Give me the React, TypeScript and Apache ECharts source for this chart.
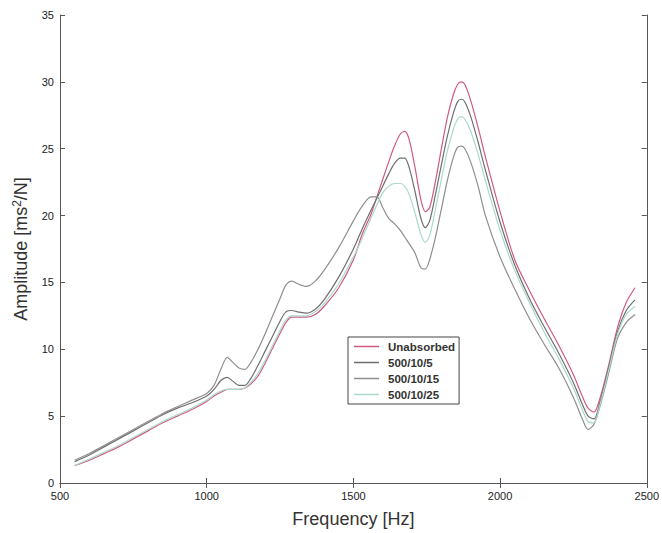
import React, { useEffect, useRef } from "react";
import * as echarts from "echarts";

const freq = [550,600,650,700,750,800,850,900,950,1000,1025,1050,1070,1090,1110,1130,1150,1175,1200,1225,1250,1270,1290,1310,1340,1370,1400,1450,1500,1530,1560,1580,1600,1620,1640,1660,1675,1690,1710,1730,1745,1760,1780,1800,1820,1840,1855,1868,1880,1900,1925,1950,2000,2050,2100,2150,2200,2250,2280,2300,2320,2340,2370,2400,2430,2460];

const unabsorbed = [1.3,1.7,2.2,2.7,3.3,3.9,4.5,5.0,5.5,6.1,6.5,6.8,7.0,7.0,7.0,7.1,7.4,8.0,9.0,10.1,11.2,12.0,12.4,12.4,12.4,12.6,13.2,14.6,16.7,18.6,20.1,21.4,22.7,24.0,25.2,26.1,26.3,25.7,23.6,21.2,20.3,20.6,22.6,25.0,27.3,29.0,29.8,30.0,29.8,28.6,26.6,24.4,20.3,16.7,14.4,12.3,10.3,8.1,6.5,5.6,5.3,6.3,8.8,11.6,13.5,14.6];

const s5 = [1.6,2.1,2.7,3.3,3.9,4.5,5.1,5.6,6.0,6.5,7.0,7.7,7.9,7.6,7.3,7.3,7.8,8.8,9.9,11.0,12.1,12.8,12.9,12.8,12.7,13.0,13.7,15.4,17.5,19.0,20.4,21.3,22.2,23.1,23.9,24.3,24.3,23.6,21.8,19.8,19.1,19.6,21.6,23.8,25.9,27.6,28.5,28.7,28.5,27.4,25.5,23.4,19.5,16.3,13.8,11.7,9.7,7.5,5.9,5.0,4.8,6.0,8.6,11.3,12.9,13.7];

const s15 = [1.7,2.2,2.8,3.4,4.0,4.6,5.2,5.7,6.2,6.7,7.3,8.6,9.4,9.0,8.6,8.5,9.0,10.0,11.2,12.5,13.8,14.8,15.1,14.9,14.7,15.1,15.9,17.6,19.6,20.7,21.4,21.4,20.6,19.8,19.4,18.9,18.4,17.9,17.2,16.1,16.0,16.7,18.4,20.5,22.6,24.3,25.1,25.2,25.0,24.0,22.2,20.0,16.9,14.5,12.3,10.4,8.6,6.4,4.8,4.0,4.4,5.7,8.2,10.8,12.0,12.6];

const s25 = [1.3,1.8,2.3,2.8,3.4,4.0,4.6,5.1,5.6,6.2,6.6,6.9,7.0,7.0,7.0,7.1,7.5,8.2,9.2,10.3,11.4,12.2,12.5,12.5,12.5,12.8,13.4,14.9,16.9,18.3,19.8,20.8,21.7,22.2,22.4,22.4,22.2,21.6,20.2,18.6,18.0,18.5,20.5,22.7,24.8,26.4,27.2,27.4,27.2,26.3,24.6,22.6,18.9,15.9,13.5,11.3,9.3,7.1,5.5,4.6,4.5,5.8,8.4,11.1,12.6,13.2];

const seriesNames = ["Unabsorbed", "500/10/5", "500/10/15", "500/10/25"];
const seriesData = [unabsorbed, s5, s15, s25];
const seriesColors = ["#d05a80", "#6f6f6f", "#8e8e8e", "#a9d9cf"];

const xTicks = [500, 1000, 1500, 2000, 2500];
const yTicks = [0, 5, 10, 15, 20, 25, 30, 35];

export default function App() {
  const ref = useRef<HTMLDivElement>(null);
  useEffect(() => {
    if (!ref.current) return;
    const chart = echarts.init(ref.current, undefined, { renderer: "svg" });
    const font = "Liberation Sans, Arial, sans-serif";
    const axisCommon = {
      axisLine: { show: true, lineStyle: { color: "#555", width: 1 } },
      axisTick: { show: true, inside: true, length: 5, lineStyle: { color: "#555" } },
      splitLine: { show: false },
    };
    chart.setOption({
      animation: false,
      backgroundColor: "#ffffff",
      grid: { left: 60, right: 10, top: 15, bottom: 49 },
      legend: {
        data: seriesNames,
        orient: "vertical",
        left: 348,
        top: 337,
        backgroundColor: "#fff",
        borderColor: "#444",
        borderWidth: 1,
        padding: [3, 4, 3, 6],
        itemGap: 3,
        itemWidth: 25,
        itemHeight: 1.5,
        icon: "rect",
        textStyle: {
          fontFamily: font,
          fontSize: 11.5,
          fontWeight: "bold",
          color: "#333",
          lineHeight: 13,
          padding: [0, 0, 0, 4],
        },
      },
      xAxis: [
        {
          type: "value",
          min: 500,
          max: 2500,
          interval: 500,
          name: "Frequency [Hz]",
          nameLocation: "middle",
          nameGap: 27,
          nameTextStyle: { fontFamily: font, fontSize: 18, color: "#333" },
          axisLabel: {
            fontFamily: font,
            fontSize: 11,
            color: "#222",
            margin: 7,
            formatter: (v: number) => (xTicks.includes(v) ? String(v) : ""),
          },
          ...axisCommon,
        },
        {
          type: "value",
          position: "top",
          min: 500,
          max: 2500,
          interval: 500,
          axisLabel: { show: false },
          ...axisCommon,
        },
      ],
      yAxis: [
        {
          type: "value",
          min: 0,
          max: 35,
          interval: 5,
          name: "{n|Amplitude [ms}{s|2}{n|/N]}",
          nameLocation: "middle",
          nameGap: 29,
          nameTextStyle: {
            fontFamily: font,
            fontSize: 18,
            color: "#333",
            rich: {
              n: { fontFamily: font, fontSize: 18, color: "#333" },
              s: { fontFamily: font, fontSize: 12, color: "#333", verticalAlign: "top", padding: [0, 0, 8, 0] },
            },
          },
          axisLabel: {
            fontFamily: font,
            fontSize: 11,
            color: "#222",
            margin: 6,
            formatter: (v: number) => (yTicks.includes(v) ? String(v) : ""),
          },
          ...axisCommon,
        },
        {
          type: "value",
          position: "right",
          min: 0,
          max: 35,
          interval: 5,
          axisLabel: { show: false },
          ...axisCommon,
        },
      ],
      series: seriesNames.map((name, i) => ({
        name,
        type: "line",
        smooth: 0.3,
        showSymbol: false,
        symbol: "none",
        color: seriesColors[i],
        lineStyle: { width: 1.2, color: seriesColors[i] },
        data: freq.map((f, j) => [f, seriesData[i][j]]),
      })),
    });
    return () => chart.dispose();
  }, []);
  return (
    <div
      ref={ref}
      style={{ position: "fixed", left: 0, top: 0, width: 662, height: 533, background: "#fff" }}
    />
  );
}
